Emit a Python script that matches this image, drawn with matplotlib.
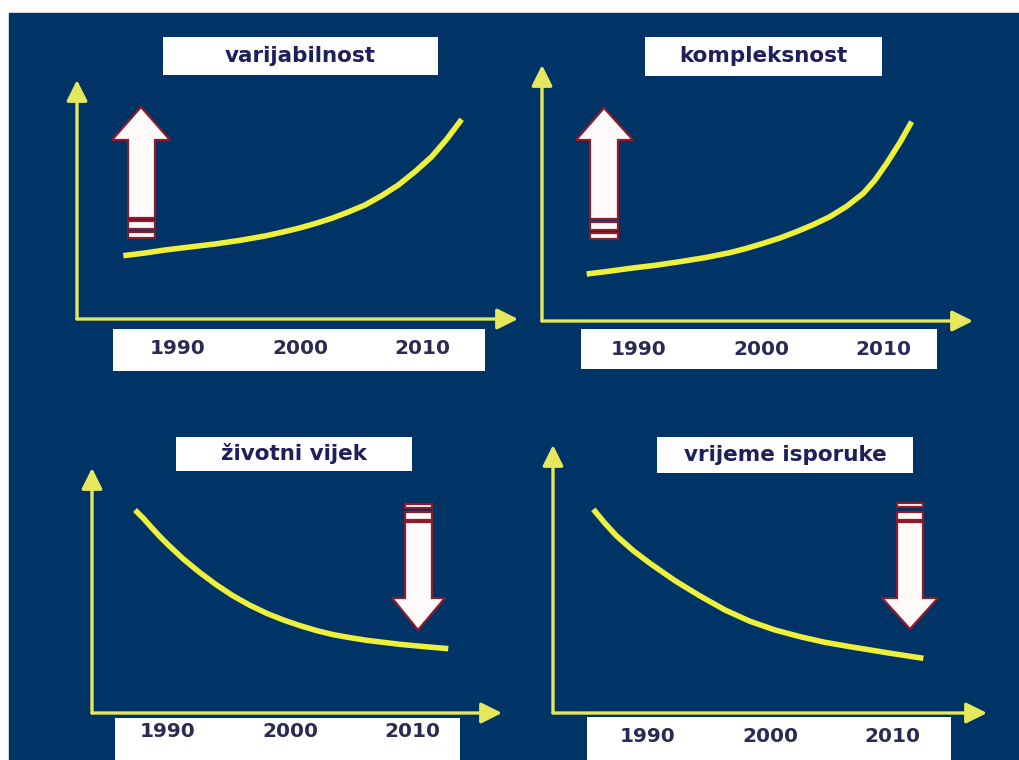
'''
Four small trend panels (variability, complexity, life span, delivery time) 1990-2010.
'''

import matplotlib.pyplot as plt
from matplotlib.patches import Rectangle, Polygon

#=============================================
#   1. data (x in years, y in relative units 0-100)

titles = ['varijabilnost', 'kompleksnost', 'životni vijek', 'vrijeme isporuke']
tick_years = [1990, 2000, 2010]
tick_labels = ['1990', '2000', '2010']

years_var = [1985.58, 1987.35, 1988.98, 1991.02, 1993.06, 1995.10, 1997.14, 1998.50, 1999.86, 2001.22,
             2002.59, 2003.95, 2005.31, 2006.67, 2008.03, 2009.39, 2010.75, 2011.97, 2013.20]
vals_var = [26.50, 27.62, 28.87, 30.13, 31.38, 32.91, 34.73, 36.26, 37.94, 39.89,
            42.12, 44.77, 47.70, 51.60, 56.07, 61.65, 67.92, 75.18, 83.54]

years_kom = [1985.77, 1987.54, 1989.31, 1991.35, 1993.39, 1995.43, 1997.47, 1998.83, 2000.19, 2001.55,
             2002.91, 2004.27, 2005.63, 2006.99, 2008.35, 2009.31, 2010.26, 2011.35, 2012.30]
vals_kom = [18.36, 19.40, 20.57, 21.74, 23.18, 24.74, 26.69, 28.39, 30.34, 32.42,
            34.90, 37.63, 40.76, 44.79, 49.87, 55.08, 61.59, 69.79, 77.86]

years_ziv = [1987.35, 1988.03, 1988.71, 1989.39, 1990.07, 1991.29, 1992.65, 1994.01, 1995.37, 1996.73,
             1998.10, 1999.46, 2000.82, 2002.18, 2003.54, 2004.90, 2006.26, 2008.98, 2011.02, 2012.92]
vals_ziv = [82.86, 79.46, 75.65, 71.97, 68.57, 62.86, 57.28, 52.24, 47.76, 43.95,
            40.68, 37.96, 35.65, 33.61, 31.97, 30.75, 29.66, 28.03, 27.07, 26.26]

years_isp = [1985.58, 1986.53, 1987.48, 1988.84, 1990.20, 1992.24, 1994.29, 1996.33, 1998.37, 2000.41,
             2002.45, 2004.49, 2006.53, 2009.52, 2012.52]
vals_isp = [75.99, 70.77, 66.04, 60.57, 55.85, 49.38, 43.66, 38.43, 34.20, 30.97,
            28.48, 26.37, 24.75, 22.51, 20.40]

series = [(years_var, vals_var), (years_kom, vals_kom), (years_ziv, vals_ziv), (years_isp, vals_isp)]

#=============================================
#   2. layout (pixels of a 1019x760 canvas)

W, H = 1019, 760
NAVY = '#003366'
YELLOW = '#eef03c'
AXCOL = '#e4e85a'
TXT = '#1f1f5c'
PX_PER_YEAR = 12.25

# y-axis x, x-axis y, x-arrow tip, y-arrow tip, pixel of year 2000
frames = [(77, 319, 518, 80, 300), (542, 321, 973, 65, 761),
          (92, 713, 502, 468, 290), (553, 713, 987, 445, 770)]
title_boxes = [(163, 37, 438, 75), (645, 37, 882, 76), (176, 437, 412, 471), (657, 437, 913, 473)]
year_boxes = [(113, 329, 485, 371), (581, 329, 937, 369), (115, 718, 460, 762), (587, 717, 951, 762)]
tick_pads = [14.5, 13.5, 6.5, 10]
# block arrows: shaft left/right, head left/right, tip, head base y, body end y, stripes
arrows = [
    dict(sl=128, sr=155, hl=112, hr=170, tx=141, ty=107, hb=140, be=218, stripes=[(221, 229), (232, 238)]),
    dict(sl=590, sr=618, hl=576, hr=633, tx=604, ty=108, hb=140, be=219, stripes=[(222, 230), (233, 239)]),
    dict(sl=405, sr=432, hl=392, hr=445, tx=418, ty=630, hb=598, be=522, stripes=[(512, 520), (504, 508)]),
    dict(sl=897, sr=923, hl=882, hr=938, tx=910, ty=629, hb=598, be=522, stripes=[(512, 520), (503, 507)]),
]

#=============================================
#   3. plot
#=============================================
plt.rcParams['font.family'] = 'DejaVu Sans'
fig = plt.figure(figsize=(W / 100, H / 100), dpi=100, facecolor='white')

bg = fig.add_axes([0, 0, 1, 1])
bg.set_xlim(0, W)
bg.set_ylim(H, 0)
bg.axis('off')
bg.add_patch(Rectangle((9, 13), W - 9, H - 13, color=NAVY, zorder=0))

for (x0, y0, x1, y1) in title_boxes + year_boxes:
    bg.add_patch(Rectangle((x0, y0), x1 - x0, y1 - y0, facecolor='white', edgecolor='none', zorder=1))

for (x0, y0, x1, y1), t in zip(title_boxes, titles):
    bg.text((x0 + x1) / 2, (y0 + y1) / 2, t, ha='center', va='center', fontsize=15.5,
            fontweight='bold', color=TXT, zorder=2)

for a in arrows:
    pts = [(a['sl'], a['be']), (a['sl'], a['hb']), (a['hl'], a['hb']), (a['tx'], a['ty']),
           (a['hr'], a['hb']), (a['sr'], a['hb']), (a['sr'], a['be'])]
    bg.add_patch(Polygon(pts, closed=True, facecolor='#fffafa', edgecolor='#8c1c2c', lw=1.6, zorder=3))
    for s0, s1 in a['stripes']:
        bg.add_patch(Rectangle((a['sl'], s0), a['sr'] - a['sl'], s1 - s0,
                               facecolor='#fffafa', edgecolor='#8c1c2c', lw=1.6, zorder=3))

for i, (x0, y0, x1, y1, c) in enumerate(frames):
    ax = fig.add_axes([x0 / W, 1 - y0 / H, (x1 - x0) / W, (y0 - y1) / H])
    ax.patch.set_alpha(0)
    for sp in ax.spines.values():
        sp.set_visible(False)
    ax.set_xlim(2000 - (c - x0) / PX_PER_YEAR, 2000 + (x1 - c) / PX_PER_YEAR)
    ax.set_ylim(0, 100)
    ax.set_yticks([])
    ax.set_xticks(tick_years, tick_labels)
    ax.tick_params(axis='x', length=0, pad=tick_pads[i], labelsize=14.5, labelcolor='#2a2a55')
    for lab in ax.get_xticklabels():
        lab.set_fontweight('bold')

    # yellow axis arrows
    arrow_kw = dict(arrowstyle='-|>,head_length=0.9,head_width=0.45', color=AXCOL, lw=2.4,
                    shrinkA=0, shrinkB=0, mutation_scale=14)
    ax.annotate('', xy=(1, 0), xytext=(0, 0), xycoords='axes fraction', arrowprops=arrow_kw,
                annotation_clip=False)
    ax.annotate('', xy=(0, 1), xytext=(0, 0), xycoords='axes fraction', arrowprops=arrow_kw,
                annotation_clip=False)

    xs, ys = series[i]
    ax.plot(xs, ys, color=YELLOW, lw=4, solid_capstyle='butt', solid_joinstyle='round', clip_on=False)

plt.savefig('out.png', dpi=100, facecolor='white')
